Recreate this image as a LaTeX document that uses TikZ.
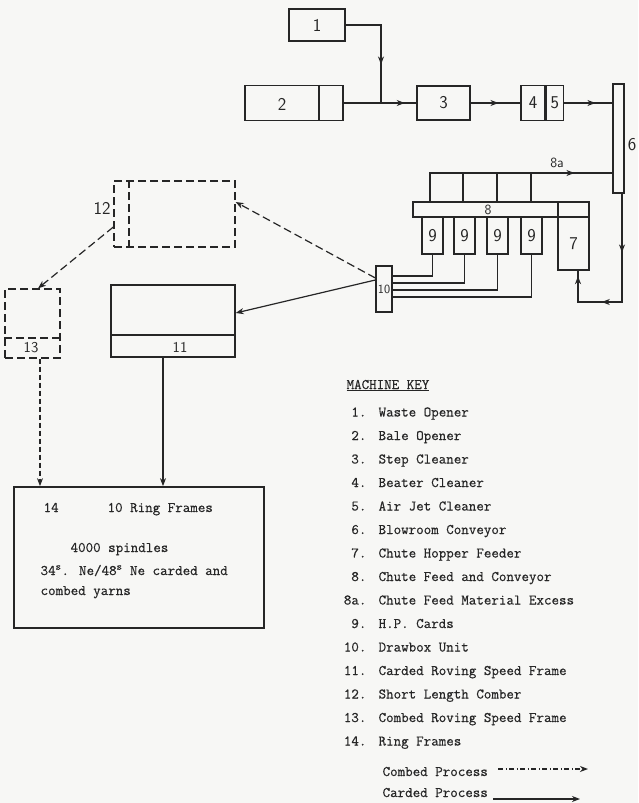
\documentclass[tikz,border=0pt]{standalone}
\usepackage{fontspec}
\usetikzlibrary{arrows.meta,decorations.markings}
\newfontfamily\typer[FakeBold=0.5]{Latin Modern Mono}
\definecolor{ink}{HTML}{262626}
\definecolor{paper}{HTML}{F7F7F5}
\newcommand\numfont{\fontsize{18}{18}\selectfont\sffamily}
\newcommand\keyfont{\fontsize{14.6}{17}\selectfont\typer}
\tikzset{
  box/.style 2 args={draw=ink, line width=1.3pt, minimum width=#1, minimum height=#2, inner sep=0pt, font=\numfont},
  lbl/.style={inner sep=0pt, font=\numfont},
  keytext/.style={inner sep=0pt, font=\keyfont},
  midarrow/.style={postaction={decorate}, decoration={markings, mark=at position #1 with {\arrow{>}}}},
  dsh/.style={dash pattern=on 8pt off 4pt},
  combed/.style={dash pattern=on 5pt off 2.5pt on 1pt off 2.5pt},
}
\begin{document}
\begin{tikzpicture}[x=1pt,y=-1pt,>={Stealth[length=8pt,width=6pt,inset=2.5pt]},line width=1.2pt,color=ink]
\fill[paper] (0,0) rectangle (638,803);
\useasboundingbox (0,0) rectangle (638,803);

% blowroom line
\node[box={56}{32}] (b1) at (317,25) {1};
\node[box={98}{35}] (b2) at (294,103) {};
\node[lbl] at (282,104) {2};
\draw (b2.north -| 319,0) -- (b2.south -| 319,0);
\node[box={53}{34}] (b3) at (443.5,103) {3};
\node[box={24}{35}] (b4) at (533,103) {4};
\node[box={17}{35},anchor=west] (b5) at (b4.east) {5};
\node[box={11}{109}] (b6) at (618.5,138.5) {};
\node[lbl] at (632,145) {6};

\coordinate (j) at (381,103);
\draw[midarrow=0.66] (b1.east) -| (j);
\draw[midarrow=0.84] (b2.east) -- (b3.west);
\draw[midarrow=0.56] (b3.east) -- (b4.west);
\draw[midarrow=0.65] (b5.east) -- (b6.west |- b5.east);

% chute feed
\node[box={176}{15}] (b8) at (501,209.5) {};
\node[lbl,font=\fontsize{14}{14}\selectfont\sffamily] at (488,210) {8};
\draw (b8.north -| 558,0) -- (b8.south -| 558,0);
\coordinate (x8a) at (430,173);
\draw[midarrow=0.82] (b8.north -| x8a) -- (x8a) -- (b6.west |- x8a);
\foreach \x in {463,497,531}
  \draw (\x,173) -- (b8.north -| \x,0);
\node[lbl,font=\fontsize{14}{14}\selectfont\sffamily] at (557,163) {8a};

\node[box={31}{53}] (b7) at (573.5,243.5) {7};
\draw[postaction={decorate}, decoration={markings,
    mark=at position 0.32 with {\arrow{>}},
    mark=at position 0.70 with {\arrow{>}},
    mark=at position 0.97 with {\arrow{>}}}]
  ([xshift=3.5pt]b6.south) -- (622,302) -- (578,302) -- (b7.south -| 578,0);

% cards and drawbox
\node[box={16}{46},font=\fontsize{12.5}{12.5}\selectfont\sffamily] (b10) at (384,289) {10};
\foreach \x/\y [count=\i] in {432.5/276,464.5/283,497.5/290,531.5/297}
{
  \node[box={21}{37}] (b9\i) at (\x,235.5) {9};
  \draw (b9\i.south) |- (b10.east |- 0,\y);
}

% combing and speed frames
\node[box={121}{66},dsh] (b12) at (174.5,214) {};
\draw[dsh] (b12.north -| 129,0) -- (b12.south -| 129,0);
\node[lbl] at (102,208) {12};
\node[box={55}{69},dsh] (b13) at (32.5,323.5) {};
\draw[dsh] (b13.west |- 0,338) -- (b13.east |- 0,338);
\node[lbl,font=\fontsize{15}{15}\selectfont\sffamily] at (31,348) {13};
\node[box={124}{72}] (b11) at (173,321) {};
\draw (b11.west |- 0,335) -- (b11.east |- 0,335);
\node[lbl,font=\fontsize{15}{15}\selectfont\sffamily] at (180,347) {11};

\draw[dsh,->] (b10.west |- 0,278) -- (b12.east |- 0,202);
\draw[dsh,->] (b12.west |- 0,227) -- (b13.north -| 38,0);
\draw[->] (b10.west |- 0,280) -- (b11.east |- 0,313);

% ring frames
\node[box={250}{141},line width=1.7pt] (b14) at (139,557.5) {};
\draw[->] (b11.south -| 163,0) -- (b14.north -| 163,0);
\draw[dash pattern=on 5pt off 3pt,->] (b13.south -| 40,0) -- (b14.north -| 40,0);
\node[keytext,anchor=base west] at (43,512) {14};
\node[keytext,anchor=base west] at (107,512) {10 Ring Frames};
\node[keytext,anchor=base west] at (70,552) {4000 spindles};
\node[keytext,anchor=base west] at (40,575) {34\textsuperscript{s}. Ne/48\textsuperscript{s} Ne carded and};
\node[keytext,anchor=base west] at (40,595) {combed yarns};

% key
\node[keytext,anchor=base west] (keyhd) at (346,389) {\underline{MACHINE KEY}};
\foreach \n/\t [count=\i] in {1./Waste Opener, 2./Bale Opener, 3./Step Cleaner,
  4./Beater Cleaner, 5./Air Jet Cleaner, 6./Blowroom Conveyor, 7./Chute Hopper Feeder,
  8./Chute Feed and Conveyor, 8a./Chute Feed Material Excess, 9./H.P. Cards,
  10./Drawbox Unit, 11./Carded Roving Speed Frame, 12./Short Length Comber,
  13./Combed Roving Speed Frame, 14./Ring Frames}
{
  \node[keytext,anchor=base east] at (367,{416.5+23.5*(\i-1)}) {\n};
  \node[keytext,anchor=base west] at (378,{416.5+23.5*(\i-1)}) {\t};
}
\node[keytext,anchor=base west] (combtxt) at (382,776) {Combed Process};
\node[keytext,anchor=base west] (cardtxt) at (382,797) {Carded Process};
\coordinate (combend) at (588,769);
\coordinate (cardend) at (580,799);
\draw[combed,->] (combtxt.east |- combend) ++(10,0) -- (combend);
\draw[->] (cardtxt.east |- cardend) ++(5,0) -- (cardend);
\end{tikzpicture}
\end{document}
